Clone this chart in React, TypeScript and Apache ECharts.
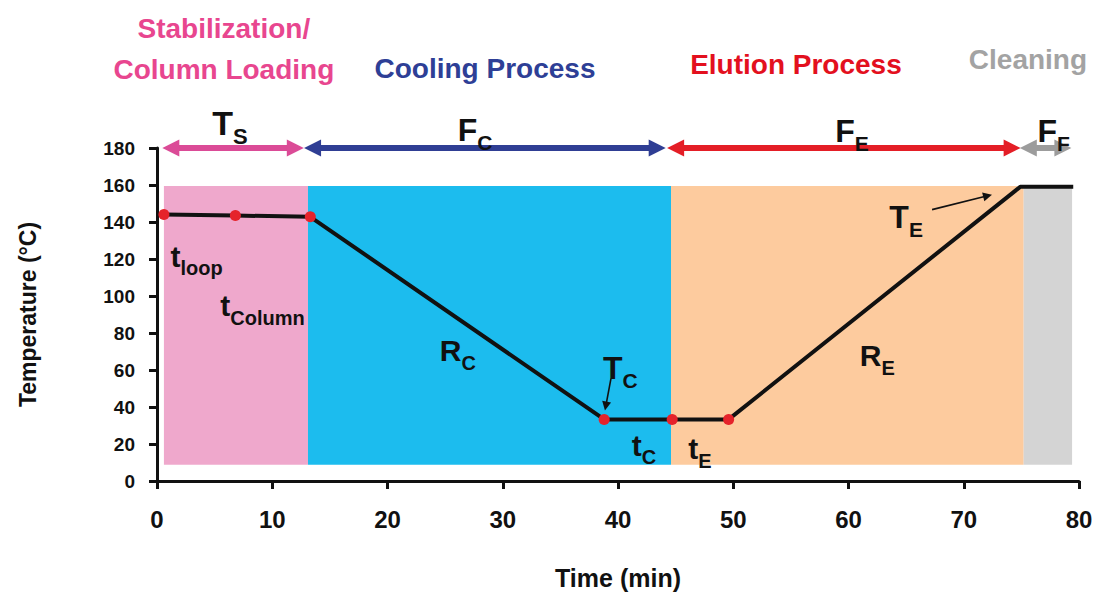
import { useEffect, useRef } from 'react';
import * as echarts from 'echarts';

const FONT = "'Liberation Sans', Arial, Helvetica, sans-serif";

// Temperature programme: time (min) and oven temperature (°C)
const profileTime = [0.6, 6.8, 13.3, 38.8, 44.7, 49.6, 74.9, 79.5];
const profileTemp = [144, 143.5, 142.8, 33.3, 33.3, 33.3, 159, 159];
const markedCount = 6; // the first six points carry red markers

// Shaded phase bands
const phaseStart = [0.6, 13.1, 44.6, 75.2];
const phaseEnd = [13.1, 44.6, 75.2, 79.4];
const bandBottom = 8.8;
const bandTop = 159.5;
const phaseFill = ['#EFA8CC', '#1CBCEE', '#FDCB9E', '#D4D4D4'];

// Flow arrows along the top edge (arrow-head centres)
const arrowFrom = [1.2, 13.5, 45.0, 75.6];
const arrowTo = [12.0, 43.4, 74.2, 78.6];
const arrowLevel = 180;
const arrowColor = ['#DB4B97', '#2F3E94', '#E41E26', '#9C9C9C'];

// Phase titles above the plot
const titleText = ['Stabilization/\nColumn Loading', 'Cooling Process', 'Elution Process', 'Cleaning'];
const titleX = [5.8, 28.46, 55.44, 75.57];
const titleY = [233.4, 223.0, 225.4, 227.8];
const titleColor = ['#E8468F', '#2E3F96', '#E3101E', '#A3A3A3'];

// Symbol annotations (main letter + subscript)
const symMain = ['T', 'F', 'F', 'F', 't', 't', 'R', 'T', 't', 't', 'R', 'T'];
const symSub = ['S', 'C', 'E', 'F', 'loop', 'Column', 'C', 'C', 'C', 'E', 'E', 'E'];
const symX = [6.33, 27.6, 60.3, 77.8, 3.43, 9.15, 26.1, 40.2, 42.25, 47.1, 62.5, 65.0];
const symY = [193.4, 190, 189.4, 189.4, 121.4, 94.6, 70.4, 61, 19.3, 17.5, 67.7, 142.7];
const symSize = [34, 32, 32, 32, 30, 30, 30, 32, 30, 30, 30, 32];

// Thin pointer arrows for T_C and T_E
const pointerFrom = [[39.39, 55.3], [67.25, 146.7]];
const pointerTo = [[38.94, 40.5], [72.07, 154.2]];

export default function App() {
  const ref = useRef<HTMLDivElement>(null);

  useEffect(() => {
    if (!ref.current) return;
    const chart = echarts.init(ref.current, undefined, { renderer: 'svg' });

    const profile = profileTime.map((t, i) => [t, profileTemp[i]]);

    const bands = phaseStart.map((s, i) => [
      { xAxis: s, yAxis: bandBottom, itemStyle: { color: phaseFill[i], opacity: 1 } },
      { xAxis: phaseEnd[i], yAxis: bandTop },
    ]);

    const flowArrows = arrowFrom.map((s, i) => [
      {
        coord: [s, arrowLevel],
        lineStyle: { color: arrowColor[i], width: 6, type: 'solid', opacity: 1 },
        itemStyle: { color: arrowColor[i] },
      },
      { coord: [arrowTo[i], arrowLevel] },
    ]);

    const pointers = pointerFrom.map((p, i) => [
      {
        coord: p,
        symbol: 'none',
        symbolSize: 9,
        lineStyle: { color: '#111', width: 1.6, type: 'solid', opacity: 1 },
        itemStyle: { color: '#111' },
      },
      { coord: pointerTo[i], symbol: 'triangle', symbolSize: 9 },
    ]);

    const symbolLabels = symMain.map((m, i) => {
      const M = symSize[i];
      const S = Math.round(M * 0.66);
      return {
        value: [symX[i], symY[i]],
        label: {
          show: true,
          position: 'inside',
          formatter: `{m|${m}}{s|${symSub[i]}}`,
          rich: {
            m: { fontSize: M, lineHeight: M, fontWeight: 'bold', fontFamily: FONT, color: '#111', verticalAlign: 'top' },
            s: {
              fontSize: S,
              lineHeight: S,
              fontWeight: 'bold',
              fontFamily: FONT,
              color: '#111',
              verticalAlign: 'top',
              padding: [Math.round(M * 0.55), 0, 0, 0],
            },
          },
        },
      };
    });

    const titles = titleText.map((txt, i) => ({
      value: [titleX[i], titleY[i]],
      label: {
        show: true,
        position: 'inside',
        formatter: txt,
        color: titleColor[i],
        fontSize: 28,
        fontWeight: 'bold',
        fontFamily: FONT,
        lineHeight: 41,
        align: 'center',
      },
    }));

    chart.setOption({
      animation: false,
      backgroundColor: '#ffffff',
      grid: { left: 157, right: 23, top: 148, bottom: 112, containLabel: false },
      xAxis: {
        type: 'value',
        min: 0,
        max: 80,
        interval: 10,
        name: 'Time (min)',
        nameLocation: 'middle',
        nameGap: 84,
        nameTextStyle: { fontSize: 25, fontWeight: 'bold', color: '#111', fontFamily: FONT },
        axisLine: { show: true, lineStyle: { color: '#111', width: 3 } },
        axisTick: { show: true, inside: false, length: 8, lineStyle: { color: '#111', width: 3 } },
        axisLabel: { fontSize: 24, fontWeight: 'bold', color: '#111', margin: 26, fontFamily: FONT },
        splitLine: { show: false },
      },
      yAxis: {
        type: 'value',
        min: 0,
        max: 180,
        interval: 20,
        name: 'Temperature (°C)',
        nameLocation: 'middle',
        nameGap: 118,
        nameTextStyle: { fontSize: 23, fontWeight: 'bold', color: '#111', fontFamily: FONT },
        axisLine: { show: true, lineStyle: { color: '#111', width: 3 } },
        axisTick: { show: true, inside: false, length: 8, lineStyle: { color: '#111', width: 3 } },
        axisLabel: { fontSize: 19, fontWeight: 'bold', color: '#111', margin: 22, fontFamily: FONT },
        splitLine: { show: false },
      },
      series: [
        {
          name: 'phases',
          type: 'line',
          data: [],
          z: 1,
          silent: true,
          markArea: { silent: true, itemStyle: { opacity: 1 }, data: bands },
        },
        {
          name: 'profile',
          type: 'line',
          data: profile,
          z: 3,
          symbol: 'none',
          lineStyle: { color: '#111', width: 4, type: 'solid' },
          silent: true,
        },
        {
          name: 'points',
          type: 'scatter',
          data: profile.slice(0, markedCount),
          z: 4,
          symbol: 'circle',
          symbolSize: 11,
          itemStyle: { color: '#E5232B', opacity: 1 },
          silent: true,
        },
        {
          name: 'symbols',
          type: 'scatter',
          data: symbolLabels,
          z: 5,
          clip: false,
          symbolSize: 0,
          itemStyle: { opacity: 1 },
          silent: true,
        },
        {
          name: 'titles',
          type: 'scatter',
          data: titles,
          z: 5,
          clip: false,
          symbolSize: 0,
          itemStyle: { opacity: 1 },
          silent: true,
        },
        {
          name: 'arrows',
          type: 'line',
          data: [],
          z: 6,
          clip: false,
          silent: true,
          markLine: {
            silent: true,
            symbol: ['triangle', 'triangle'],
            symbolSize: [17, 17],
            lineStyle: { type: 'solid', opacity: 1 },
            label: { show: false },
            data: [...flowArrows, ...pointers],
          },
        },
      ],
    });

    return () => chart.dispose();
  }, []);

  return (
    <div
      ref={ref}
      style={{ position: 'fixed', left: 0, top: 0, width: 1102, height: 595, background: '#fff' }}
    />
  );
}
